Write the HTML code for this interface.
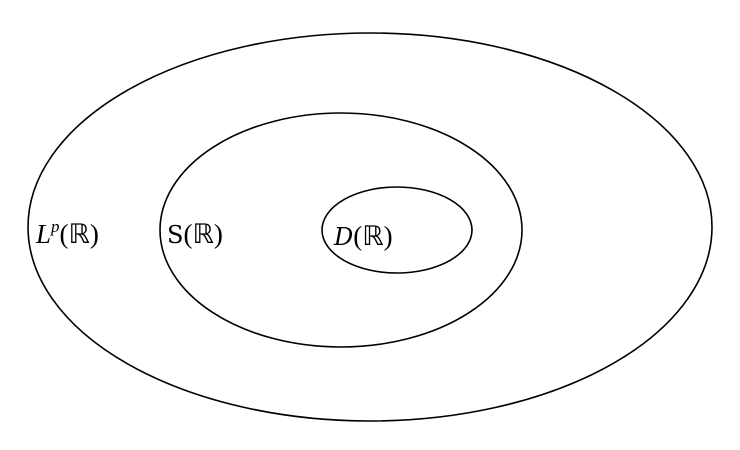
<!DOCTYPE html>
<html><head><style>body{margin:0;background:#fff}</style></head><body>
<svg width="740" height="445" xmlns="http://www.w3.org/2000/svg">
<rect width="740" height="445" fill="#fff"/>
<g fill="none" stroke="#000" stroke-width="1.6">
<ellipse cx="370" cy="227" rx="342" ry="194"/>
<ellipse cx="341" cy="230" rx="181" ry="117"/>
<ellipse cx="397" cy="230" rx="75" ry="43"/>
</g>
<g font-family="Liberation Serif, serif" font-size="27" fill="#000">
<text x="36" y="243"><tspan font-style="italic">L</tspan><tspan font-style="italic" font-size="17" dy="-11">p</tspan><tspan dy="11">(ℝ)</tspan></text>
<text x="167" y="243"><tspan font-family="DejaVu Serif, serif" font-size="24">S</tspan>(ℝ)</text>
<text x="334" y="245"><tspan font-family="DejaVu Serif, serif" font-size="24" font-style="italic">D</tspan>(ℝ)</text>
</g>
</svg>
</body></html>
